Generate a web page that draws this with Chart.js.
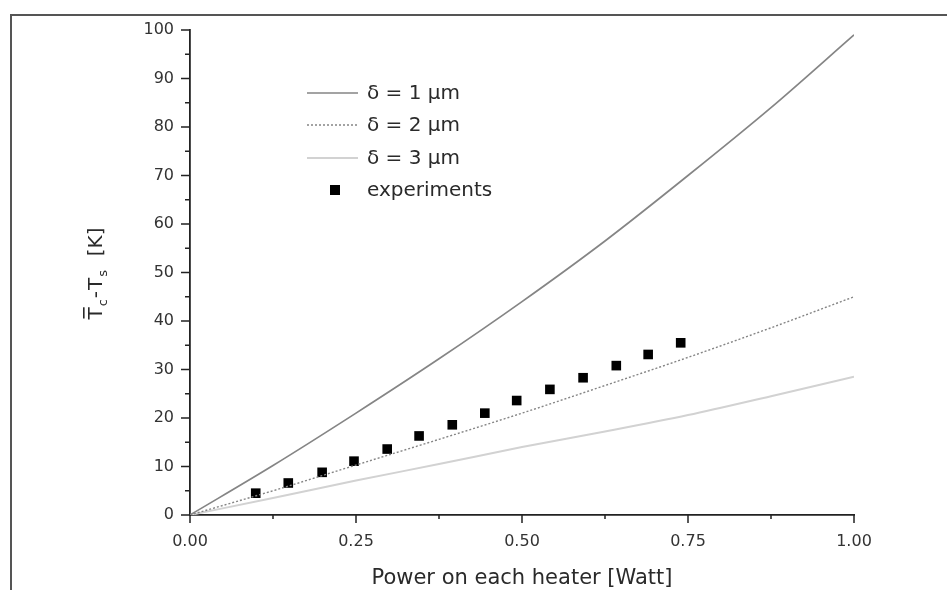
<!DOCTYPE html>
<html>
<head>
<meta charset="utf-8">
<script src="https://cdn.jsdelivr.net/npm/chart.js@4.4.1/dist/chart.umd.min.js"></script>
<style>
html, body { margin: 0; padding: 0; background: #fff; overflow: hidden; }
#wrap { position: relative; width: 947px; height: 590px; }
#frame { position: absolute; left: 10px; top: 14px; width: 960px; height: 600px; border: 2px solid #555; box-sizing: border-box; pointer-events: none; }
canvas { position: absolute; left: 0; top: 0; }
</style>
</head>
<body>
<div id="wrap">
    <canvas id="heaterChart" width="947" height="590"></canvas>
    <div id="frame"></div>
</div>
<script>
// model curves
const modelPower = [0, 0.125, 0.25, 0.375, 0.5, 0.625, 0.75, 0.875, 1.0];
const delta1 = [0, 10.2, 21, 32.2, 44, 56.5, 70, 84, 99];
const delta2 = [0, 5, 10.3, 15.6, 21, 26.7, 32.5, 38.6, 45];
const delta3 = [0, 3.5, 7.1, 10.5, 14, 17.2, 20.6, 24.5, 28.5];

// measured points
const expPower = [0.099, 0.148, 0.199, 0.247, 0.297, 0.345, 0.395, 0.444, 0.492, 0.542, 0.592, 0.642, 0.690, 0.739];
const expTemp = [4.5, 6.6, 8.8, 11.1, 13.6, 16.3, 18.6, 21.0, 23.6, 25.9, 28.3, 30.8, 33.1, 35.5];

const seriesLabels = ['δ = 1 µm', 'δ = 2 µm', 'δ = 3 µm', 'experiments'];

// axis ticks
const xTickValues = [0, 0.125, 0.25, 0.375, 0.5, 0.625, 0.75, 0.875, 1.0];
const xTickLabels = ['0.00', '', '0.25', '', '0.50', '', '0.75', '', '1.00'];
const yTickValues = [0, 5, 10, 15, 20, 25, 30, 35, 40, 45, 50, 55, 60, 65, 70, 75, 80, 85, 90, 95, 100];
const yTickLabels = ['0', '', '10', '', '20', '', '30', '', '40', '', '50', '', '60', '', '70', '', '80', '', '90', '', '100'];

const xTitle = 'Power on each heater [Watt]';

function toPoints(xs, ys) {
    return xs.map(function (x, i) { return { x: x, y: ys[i] }; });
}

const FONT = '"DejaVu Sans", sans-serif';

// tick marks: long for labelled ticks, short for the others
const tickMarks = {
    id: 'tickMarks',
    afterDatasetsDraw(chart) {
        const ctx = chart.ctx;
        const xs = chart.scales.x, ys = chart.scales.y;
        ctx.save();
        ctx.strokeStyle = '#222';
        ctx.lineWidth = 1.5;
        ctx.beginPath();
        xTickValues.forEach(function (v, i) {
            const px = xs.getPixelForValue(v);
            const len = xTickLabels[i] ? 8 : 4;
            ctx.moveTo(px, ys.bottom);
            ctx.lineTo(px, ys.bottom + len);
        });
        yTickValues.forEach(function (v, i) {
            const py = ys.getPixelForValue(v);
            const len = yTickLabels[i] ? 9 : 5;
            ctx.moveTo(xs.left, py);
            ctx.lineTo(xs.left - len, py);
        });
        ctx.stroke();
        ctx.restore();
    }
};

// axis titles (y title has sub-scripts and an overbar)
const axisTitles = {
    id: 'axisTitles',
    afterDraw(chart) {
        const ctx = chart.ctx;
        const area = chart.chartArea;
        ctx.save();
        ctx.fillStyle = '#2a2a2a';
        ctx.textBaseline = 'alphabetic';
        ctx.textAlign = 'center';
        ctx.font = '21px ' + FONT;
        ctx.fillText(xTitle, (area.left + area.right) / 2, 584);

        const big = '20px ' + FONT, small = '13px ' + FONT;
        const parts = [
            { t: 'T', f: big, dy: 0, bar: true },
            { t: 'c', f: small, dy: 5 },
            { t: '-', f: big, dy: 0 },
            { t: 'T', f: big, dy: 0 },
            { t: 's', f: small, dy: 5 },
            { t: '  [K]', f: big, dy: 0 }
        ];
        let total = 0;
        parts.forEach(function (p) { ctx.font = p.f; p.w = ctx.measureText(p.t).width + 1; total += p.w; });
        ctx.translate(102, 273);
        ctx.rotate(-Math.PI / 2);
        ctx.textAlign = 'left';
        let x = -total / 2;
        parts.forEach(function (p) {
            ctx.font = p.f;
            ctx.fillText(p.t, x, p.dy);
            if (p.bar) {
                ctx.fillRect(x + 1, -19, p.w - 2, 1.6);
            }
            x += p.w;
        });
        ctx.restore();
    }
};

// legend inside the plot, top left
const innerLegend = {
    id: 'innerLegend',
    afterDraw(chart) {
        const ctx = chart.ctx;
        const rows = [93, 125, 158, 190];
        ctx.save();
        ctx.font = '20px ' + FONT;
        ctx.fillStyle = '#2a2a2a';
        ctx.textBaseline = 'middle';
        chart.data.datasets.forEach(function (ds, i) {
            const y = rows[i];
            if (ds.showLine) {
                ctx.save();
                ctx.strokeStyle = ds.borderColor;
                ctx.lineWidth = ds.borderWidth;
                ctx.setLineDash(ds.borderDash || []);
                ctx.beginPath();
                ctx.moveTo(307, y);
                ctx.lineTo(358, y);
                ctx.stroke();
                ctx.restore();
            } else {
                ctx.fillStyle = ds.backgroundColor;
                ctx.fillRect(330, y - 5, 10, 10);
                ctx.fillStyle = '#2a2a2a';
            }
            ctx.fillText(ds.label, 367, y + 1);
        });
        ctx.restore();
    }
};

const ctx = document.getElementById('heaterChart').getContext('2d');

window.heaterChart = new Chart(ctx, {
    type: 'scatter',
    data: {
        datasets: [{
            label: seriesLabels[0],
            data: toPoints(modelPower, delta1),
            showLine: true,
            borderColor: '#858585',
            borderWidth: 1.7,
            pointRadius: 0,
            cubicInterpolationMode: 'monotone'
        }, {
            label: seriesLabels[1],
            data: toPoints(modelPower, delta2),
            showLine: true,
            borderColor: '#858585',
            borderWidth: 1.4,
            borderDash: [2, 2],
            pointRadius: 0,
            cubicInterpolationMode: 'monotone'
        }, {
            label: seriesLabels[2],
            data: toPoints(modelPower, delta3),
            showLine: true,
            borderColor: '#d2d2d2',
            borderWidth: 2,
            pointRadius: 0,
            cubicInterpolationMode: 'monotone'
        }, {
            label: seriesLabels[3],
            data: toPoints(expPower, expTemp),
            showLine: false,
            pointStyle: 'rect',
            pointRadius: 6.8,
            backgroundColor: '#000',
            borderColor: '#000',
            borderWidth: 0
        }]
    },
    options: {
        responsive: false,
        animation: false,
        devicePixelRatio: 1,
        layout: { padding: { left: 0, top: 30, right: 93, bottom: 0 } },
        plugins: {
            legend: { display: false },
            tooltip: { enabled: false }
        },
        scales: {
            x: {
                type: 'linear',
                min: 0,
                max: 1,
                afterFit: function (scale) { scale.height = 75; },
                afterBuildTicks: function (scale) {
                    scale.ticks = xTickValues.map(function (v) { return { value: v }; });
                },
                ticks: {
                    autoSkip: false,
                    maxRotation: 0,
                    padding: 17,
                    color: '#333',
                    font: { family: FONT, size: 16 },
                    callback: function (value, index) { return xTickLabels[index]; }
                },
                grid: { drawOnChartArea: false, drawTicks: false },
                border: { display: true, color: '#222', width: 1.8 }
            },
            y: {
                type: 'linear',
                min: 0,
                max: 100,
                afterFit: function (scale) { scale.width = 190; },
                afterBuildTicks: function (scale) {
                    scale.ticks = yTickValues.map(function (v) { return { value: v }; });
                },
                ticks: {
                    autoSkip: false,
                    padding: 16,
                    color: '#333',
                    font: { family: FONT, size: 16 },
                    callback: function (value, index) { return yTickLabels[index]; }
                },
                grid: { drawOnChartArea: false, drawTicks: false },
                border: { display: true, color: '#222', width: 1.8 }
            }
        }
    },
    plugins: [tickMarks, axisTitles, innerLegend]
});
</script>
</body>
</html>
